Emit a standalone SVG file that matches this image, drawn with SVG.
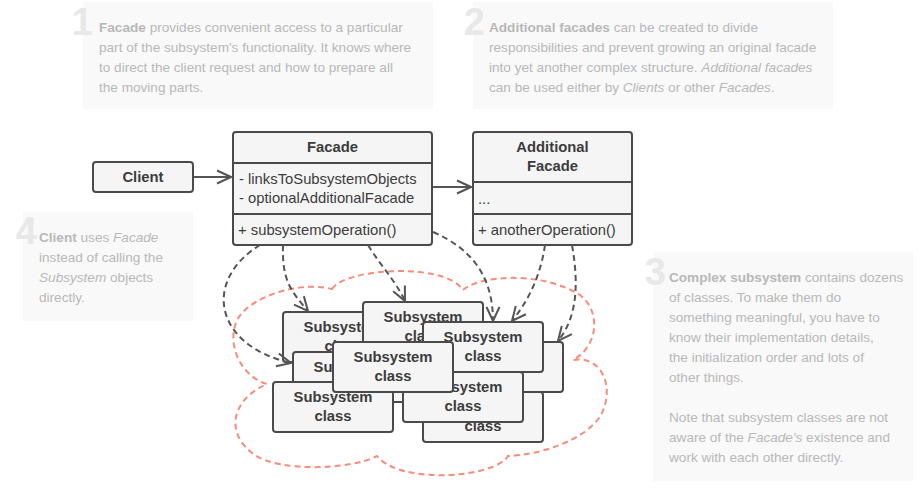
<svg xmlns="http://www.w3.org/2000/svg" width="923" height="499" viewBox="0 0 923 499">
<style>
text{font-family:"Liberation Sans",Arial,sans-serif}
.note rect{fill:#f9f9f9}
.note text{font-size:13.6px;fill:#b8b8b8}
.note .num{font-size:38px;font-weight:bold;fill:#e8e8e8}
.b{font-weight:bold}
.i{font-style:italic}
.box{fill:#f5f5f5;stroke:#4a4a4a;stroke-width:2}
.sep{stroke:#4a4a4a;stroke-width:2}
.t{font-size:14.8px;fill:#3c3c3c}
.tb{font-size:14.8px;fill:#3c3c3c;font-weight:bold;text-anchor:middle}
.dash{fill:none;stroke:#555;stroke-width:2;stroke-dasharray:6 4}
.solid{fill:none;stroke:#555;stroke-width:2}
.cloud{fill:none;stroke:#f98c7c;stroke-width:2;stroke-dasharray:6 4}
</style>
<defs>
<marker id="arr" viewBox="0 0 16 16" refX="15" refY="8" markerWidth="16" markerHeight="16" markerUnits="userSpaceOnUse" orient="auto">
<path d="M1,1.5 L15,8 L1,14.5" fill="none" stroke="#555" stroke-width="2" stroke-dasharray="none"/>
</marker>
</defs>
<rect width="923" height="499" fill="#ffffff"/>

<g id="note1" class="note">
<rect x="83" y="2" width="350" height="107"/>
<text class="num" x="93" y="35" text-anchor="end">1</text>
<text x="99" y="32"><tspan class="b">Facade</tspan> provides convenient access to a particular</text>
<text x="99" y="52">part of the subsystem's functionality. It knows where</text>
<text x="99" y="72">to direct the client request and how to prepare all</text>
<text x="99" y="92">the moving parts.</text>
</g>

<g id="note2" class="note">
<rect x="473" y="2" width="360" height="107"/>
<text class="num" x="485" y="35" text-anchor="end">2</text>
<text x="489" y="32"><tspan class="b">Additional facades</tspan> can be created to divide</text>
<text x="489" y="52">responsibilities and prevent growing an original facade</text>
<text x="489" y="72">into yet another complex structure. <tspan class="i">Additional facades</tspan></text>
<text x="489" y="92">can be used either by <tspan class="i">Clients</tspan> or other <tspan class="i">Facades</tspan>.</text>
</g>

<g id="note4" class="note">
<rect x="23" y="212" width="170" height="109"/>
<text class="num" x="37" y="244" text-anchor="end">4</text>
<text x="39" y="242"><tspan class="b">Client</tspan> uses <tspan class="i">Facade</tspan></text>
<text x="39" y="262">instead of calling the</text>
<text x="39" y="282"><tspan class="i">Subsystem</tspan> objects</text>
<text x="39" y="302">directly.</text>
</g>

<g id="note3" class="note">
<rect x="653" y="252" width="260" height="229"/>
<text class="num" x="666" y="285" text-anchor="end">3</text>
<text x="669" y="282"><tspan class="b">Complex subsystem</tspan> contains dozens</text>
<text x="669" y="302">of classes. To make them do</text>
<text x="669" y="322">something meaningful, you have to</text>
<text x="669" y="342">know their implementation details,</text>
<text x="669" y="362">the initialization order and lots of</text>
<text x="669" y="382">other things.</text>
<text x="669" y="422">Note that subsystem classes are not</text>
<text x="669" y="442">aware of the <tspan class="i">Facade's</tspan> existence and</text>
<text x="669" y="462">work with each other directly.</text>
</g>

<g id="cloud">
<path class="cloud" d="M332,289 C345,268 445,262 463,290 C478,276 540,270 580,295 C600,310 600,345 573,360 C600,355 616,385 601,415 C586,440 540,455 508,456 C495,478 400,485 377,456 C350,470 280,472 255,455 C225,435 230,400 267,384 C235,375 222,330 245,310 C265,292 305,282 332,289 Z"/>
</g>

<g id="client">
<rect class="box" x="93" y="162" width="100" height="30" rx="3"/>
<text class="tb" x="143" y="182">Client</text>
</g>

<g id="facade">
<rect class="box" x="233" y="132" width="199" height="113" rx="3"/>
<line class="sep" x1="233" y1="163" x2="432" y2="163"/>
<line class="sep" x1="233" y1="214" x2="432" y2="214"/>
<text class="tb" x="332.5" y="152">Facade</text>
<text class="t" x="239" y="184">- linksToSubsystemObjects</text>
<text class="t" x="239" y="203">- optionalAdditionalFacade</text>
<text class="t" x="238" y="235">+ subsystemOperation()</text>
</g>

<g id="additional-facade">
<rect class="box" x="473" y="132" width="159" height="113" rx="3"/>
<line class="sep" x1="473" y1="182" x2="632" y2="182"/>
<line class="sep" x1="473" y1="214" x2="632" y2="214"/>
<text class="tb" x="552.5" y="152">Additional</text>
<text class="tb" x="552.5" y="171">Facade</text>
<text class="t" x="478" y="204">...</text>
<text class="t" x="478" y="235">+ anotherOperation()</text>
</g>

<g id="subsystem-classes">
<g id="sub-a"><rect class="box" x="283" y="312" width="120" height="50" rx="3"/><text class="tb" x="343" y="332">Subsystem</text><text class="tb" x="343" y="351">class</text></g>
<g id="sub-b"><rect class="box" x="363" y="302" width="120" height="50" rx="3"/><text class="tb" x="423" y="322">Subsystem</text><text class="tb" x="423" y="341">class</text></g>
<g id="sub-c"><rect class="box" x="293" y="352" width="120" height="50" rx="3"/><text class="tb" x="353" y="372">Subsystem</text><text class="tb" x="353" y="391">class</text></g>
<g id="sub-e"><rect class="box" x="273" y="382" width="120" height="50" rx="3"/><text class="tb" x="333" y="402">Subsystem</text><text class="tb" x="333" y="421">class</text></g>
<g id="sub-i"><rect class="box" x="443" y="342" width="120" height="50" rx="3"/><text class="tb" x="503" y="362">Subsystem</text><text class="tb" x="503" y="381">class</text></g>
<g id="sub-g"><rect class="box" x="423" y="392" width="120" height="50" rx="3"/><text class="tb" x="483" y="412">Subsystem</text><text class="tb" x="483" y="431">class</text></g>
<g id="sub-f"><rect class="box" x="403" y="372" width="120" height="50" rx="3"/><text class="tb" x="463" y="392">Subsystem</text><text class="tb" x="463" y="411">class</text></g>
<g id="sub-h"><rect class="box" x="423" y="322" width="120" height="50" rx="3"/><text class="tb" x="483" y="342">Subsystem</text><text class="tb" x="483" y="361">class</text></g>
<g id="sub-d"><rect class="box" x="333" y="342" width="120" height="50" rx="3"/><text class="tb" x="393" y="362">Subsystem</text><text class="tb" x="393" y="381">class</text></g>
</g>

<g id="connectors">
<line class="solid" x1="194" y1="177" x2="231" y2="177" marker-end="url(#arr)"/>
<line class="solid" x1="433" y1="187" x2="471" y2="187" marker-end="url(#arr)"/>
<path class="dash" d="M260,245 C203,280 213,345 291,363" marker-end="url(#arr)"/>
<path class="dash" d="M283,245 C282,280 290,290 308,311" marker-end="url(#arr)"/>
<path class="dash" d="M368,245 C380,265 395,280 405,301" marker-end="url(#arr)"/>
<path class="dash" d="M433,232 C475,250 493,280 493,321" marker-end="url(#arr)"/>
<path class="dash" d="M545,245 C540,280 525,305 512,321" marker-end="url(#arr)"/>
<path class="dash" d="M572,245 C580,290 575,320 558,341" marker-end="url(#arr)"/>
</g>
</svg>
